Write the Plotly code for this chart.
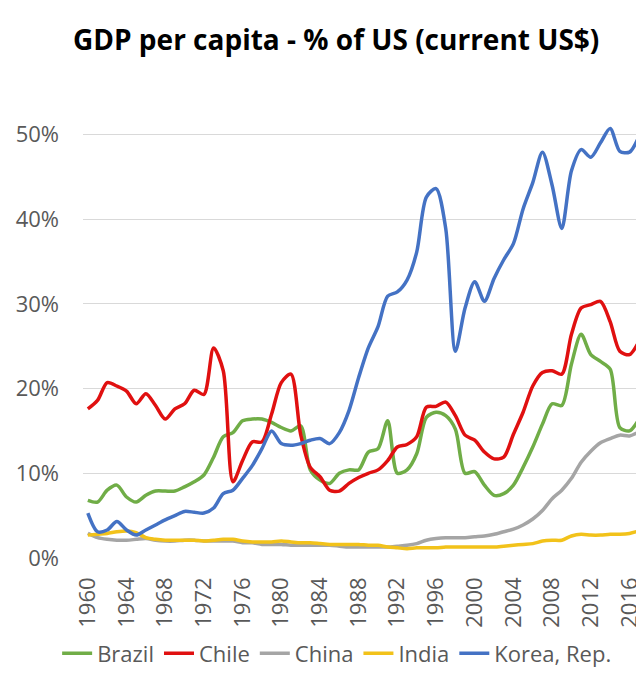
import plotly.graph_objects as go

# Anos (eixo x)
years = list(range(1960, 2018))

# PIB per capita em % dos EUA
brazil = [6.8, 6.6, 8.0, 8.6, 7.2, 6.6, 7.4, 7.9, 7.9, 7.9,
          8.4, 9.0, 9.8, 11.9, 14.3, 14.8, 16.2, 16.4, 16.4, 16.0,
          15.4, 15.0, 15.6, 10.4, 9.2, 8.8, 10.0, 10.4, 10.4, 12.5,
          12.9, 16.2, 10.0, 10.4, 12.3, 16.6, 17.2, 16.8, 15.2, 10.0,
          10.2, 8.6, 7.4, 7.6, 8.6, 10.7, 13.1, 15.8, 18.2, 18.0,
          22.9, 26.4, 24.0, 23.2, 22.3, 15.4, 15.0, 16.4]
chile = [17.6, 18.6, 20.7, 20.3, 19.7, 18.2, 19.4, 18.0, 16.4, 17.6,
         18.2, 19.8, 19.3, 24.8, 22.1, 9.0, 11.5, 13.7, 13.7, 17.0,
         20.7, 21.7, 14.6, 10.7, 9.6, 8.0, 7.9, 8.8, 9.5, 10.0,
         10.4, 11.5, 13.1, 13.4, 14.3, 17.8, 17.9, 18.4, 16.8, 14.5,
         13.9, 12.5, 11.7, 11.9, 14.6, 17.2, 20.3, 21.9, 22.1, 21.7,
         26.4, 29.5, 29.9, 30.3, 27.9, 24.4, 24.0, 25.6]
china = [2.9, 2.4, 2.2, 2.1, 2.1, 2.2, 2.3, 2.1, 2.0, 2.0,
         2.1, 2.1, 2.0, 2.0, 2.0, 2.0, 1.8, 1.8, 1.6, 1.6,
         1.6, 1.5, 1.5, 1.5, 1.5, 1.5, 1.4, 1.3, 1.3, 1.3,
         1.3, 1.3, 1.4, 1.5, 1.7, 2.1, 2.3, 2.4, 2.4, 2.4,
         2.5, 2.6, 2.8, 3.1, 3.4, 3.9, 4.6, 5.6, 7.0, 8.0,
         9.4, 11.3, 12.6, 13.6, 14.1, 14.5, 14.4, 14.9]
india = [2.7, 2.8, 2.9, 3.1, 3.2, 3.0, 2.4, 2.2, 2.1, 2.1,
         2.1, 2.1, 2.0, 2.1, 2.2, 2.2, 2.0, 1.9, 1.9, 1.9,
         2.0, 1.9, 1.8, 1.8, 1.7, 1.6, 1.6, 1.6, 1.6, 1.5,
         1.5, 1.3, 1.2, 1.1, 1.2, 1.2, 1.2, 1.3, 1.3, 1.3,
         1.3, 1.3, 1.3, 1.4, 1.5, 1.6, 1.7, 2.0, 2.1, 2.1,
         2.6, 2.8, 2.7, 2.7, 2.8, 2.8, 2.9, 3.2]
korea = [5.3, 3.1, 3.3, 4.3, 3.3, 2.7, 3.3, 3.9, 4.5, 5.0,
         5.5, 5.4, 5.3, 5.9, 7.6, 8.0, 9.4, 10.9, 12.9, 15.0,
         13.5, 13.3, 13.5, 13.9, 14.1, 13.5, 14.8, 17.4, 21.3, 24.8,
         27.3, 30.9, 31.4, 32.8, 36.1, 42.6, 43.6, 38.9, 24.4, 29.5,
         32.6, 30.3, 33.0, 35.2, 37.1, 41.2, 44.3, 47.9, 44.0, 38.9,
         45.7, 48.2, 47.3, 49.0, 50.7, 48.0, 47.9, 49.8]

series = [
    ('Brazil', brazil, '#70AD47'),
    ('Chile', chile, '#E01010'),
    ('China', china, '#A5A5A5'),
    ('India', india, '#F2C21A'),
    ('Korea, Rep.', korea, '#4472C4'),
]

fig = go.Figure()

for nome, valores, cor in series:
    fig.add_trace(go.Scatter(
        x=years,
        y=[v / 100 for v in valores],
        mode='lines',
        name=nome,
        line=dict(color=cor, width=3.5, shape='spline', smoothing=0.8),
    ))

# a página tem margem de 8px no body, por isso 636x667
fig.update_layout(
    width=636,
    height=667,
    paper_bgcolor='white',
    plot_bgcolor='white',
    font=dict(family='Open Sans, sans-serif', color='#595959'),
    title=dict(
        text='<b>GDP per capita - % of US (current US$)</b>',
        x=0.516, xanchor='center', y=0.952, yanchor='middle',
        font=dict(size=28, color='black'),
    ),
    margin=dict(l=75, r=0, t=84, b=113),
    legend=dict(
        orientation='h',
        x=0.453, xanchor='center',
        y=-0.205, yanchor='middle',
        font=dict(size=22, color='#595959'),
        tracegroupgap=0,
    ),
)

fig.update_xaxes(
    range=[1959.5, 2017.5],
    tickmode='array',
    tickvals=list(range(1960, 2018, 4)),
    tickangle=-90,
    tickfont=dict(size=22),
    ticklabelstandoff=14,
    showgrid=False,
    showline=False,
    zeroline=False,
    ticks='',
    automargin=False,
)

fig.update_yaxes(
    range=[0, 0.55],
    tickvals=[0, 0.1, 0.2, 0.3, 0.4, 0.5],
    tickformat='.0%',
    tickfont=dict(size=22),
    ticklabelstandoff=23,
    gridcolor='#D9D9D9',
    gridwidth=1,
    zeroline=False,
    showline=False,
    ticks='',
    automargin=False,
)

fig.write_html("out.html")
